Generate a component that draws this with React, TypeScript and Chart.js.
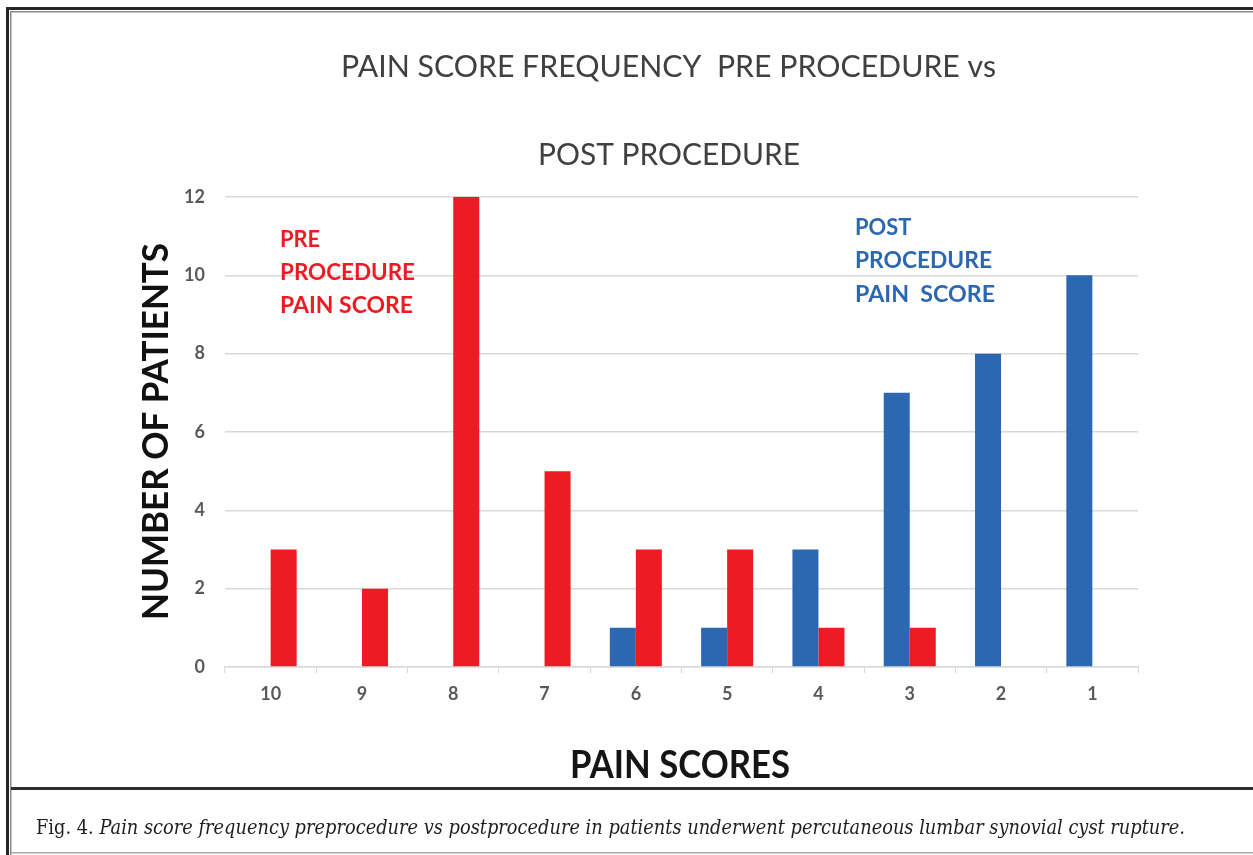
import React, { useEffect, useRef } from "react";
import { Chart, registerables } from "chart.js";

Chart.register(...registerables);

const categories = ["10", "9", "8", "7", "6", "5", "4", "3", "2", "1"];
const postValues = [0, 0, 0, 0, 1, 1, 3, 7, 8, 10];
const preValues = [3, 2, 12, 5, 3, 3, 1, 1, 0, 0];
const yMin = 0;
const yMax = 12;
const yStep = 2;

const titleLines = ["PAIN SCORE FREQUENCY  PRE PROCEDURE vs", "POST PROCEDURE"];
const preLabelLines = ["PRE", "PROCEDURE", "PAIN SCORE"];
const postLabelLines = ["POST", "PROCEDURE", "PAIN  SCORE"];
const yAxisTitle = "NUMBER OF PATIENTS";
const xAxisTitle = "PAIN SCORES";
const captionLead = "Fig. 4. ";
const captionText =
  "Pain score frequency preprocedure vs postprocedure in patients underwent percutaneous lumbar synovial cyst rupture.";

const W = 1253;
const H = 855;
const RED = "#ED1C24";
const BLUE = "#2C67B1";
const SANS = "Lato, 'Open Sans', sans-serif";

function drawFit(
  ctx: CanvasRenderingContext2D,
  text: string,
  x: number,
  baseline: number,
  font: string,
  color: string,
  targetW: number
) {
  ctx.save();
  ctx.font = font;
  ctx.fillStyle = color;
  ctx.textAlign = "left";
  ctx.textBaseline = "alphabetic";
  const w = ctx.measureText(text).width;
  const s = targetW / w;
  ctx.translate(x, baseline);
  ctx.scale(s, 1);
  ctx.fillText(text, 0, 0);
  ctx.restore();
}

const framePlugin = {
  id: "frameAndText",
  beforeDraw(chart: any) {
    const ctx: CanvasRenderingContext2D = chart.ctx;
    ctx.save();
    ctx.fillStyle = "#ffffff";
    ctx.fillRect(0, 0, W, H);
    ctx.fillStyle = "#262626";
    ctx.fillRect(6, 7, W - 6, 3);
    ctx.fillRect(6, 7, 3, H - 7);
    ctx.fillStyle = "#8a8a8a";
    ctx.fillRect(10, 11, W - 10, 1.5);
    ctx.fillRect(10, 11, 1.5, H - 11);
    ctx.fillStyle = "#2e2e2e";
    ctx.fillRect(11, 787, W - 11, 3);
    ctx.fillStyle = "#a8a8a8";
    ctx.fillRect(11, 852, W - 11, 1.5);
    ctx.restore();
  },
  afterDraw(chart: any) {
    const ctx: CanvasRenderingContext2D = chart.ctx;
    drawFit(ctx, titleLines[0], 341, 77, `400 30px ${SANS}`, "#404040", 655);
    drawFit(ctx, titleLines[1], 538, 165, `400 30px ${SANS}`, "#404040", 262);
    const preW = [0, 135, 133];
    const preB = [247, 280, 313];
    preLabelLines.forEach((t, i) => {
      ctx.save();
      ctx.font = `700 23.5px ${SANS}`;
      const w0 = ctx.measureText(t).width;
      ctx.restore();
      drawFit(ctx, t, 280, preB[i], `700 23.5px ${SANS}`, RED, preW[i] || w0 * 0.93);
    });
    const postW = [0, 137, 140];
    const postB = [235, 268, 302];
    postLabelLines.forEach((t, i) => {
      ctx.save();
      ctx.font = `700 23.5px ${SANS}`;
      const w0 = ctx.measureText(t).width;
      ctx.restore();
      drawFit(ctx, t, 855, postB[i], `700 23.5px ${SANS}`, BLUE, postW[i] || w0 * 0.93);
    });
    ctx.save();
    ctx.translate(168, 620);
    ctx.rotate(-Math.PI / 2);
    drawFit(ctx, yAxisTitle, 0, 0, `700 37px ${SANS}`, "#111111", 377);
    ctx.restore();
    drawFit(ctx, xAxisTitle, 570, 778, `700 37.5px ${SANS}`, "#151515", 220);
    ctx.save();
    const leadFont = "400 20.5px 'DejaVu Serif', 'Liberation Serif', serif";
    const itFont = "italic 400 20.5px 'DejaVu Serif', 'Liberation Serif', serif";
    ctx.font = leadFont;
    const lw = ctx.measureText(captionLead).width;
    ctx.font = itFont;
    const iw = ctx.measureText(captionText).width;
    ctx.restore();
    const total = 1185 - 36;
    const s = total / (lw + iw);
    drawFit(ctx, captionLead, 36, 834, leadFont, "#1e1e1e", lw * s);
    drawFit(ctx, captionText, 36 + lw * s, 834, itFont, "#1e1e1e", iw * s);
  },
};

export default function App() {
  const ref = useRef<HTMLCanvasElement | null>(null);
  useEffect(() => {
    if (!ref.current) return;
    const chart = new Chart(ref.current, {
      type: "bar",
      data: {
        labels: categories,
        datasets: [
          {
            label: "Post procedure pain score",
            data: postValues,
            backgroundColor: BLUE,
            borderWidth: 0,
            categoryPercentage: 0.57,
            barPercentage: 1.0,
          },
          {
            label: "Pre procedure pain score",
            data: preValues,
            backgroundColor: RED,
            borderWidth: 0,
            categoryPercentage: 0.57,
            barPercentage: 1.0,
          },
        ],
      },
      options: {
        responsive: false,
        animation: false,
        devicePixelRatio: 1,
        layout: { padding: { left: 0, right: 115, top: 197, bottom: 0 } },
        plugins: {
          legend: { display: false },
          title: { display: false },
          tooltip: { enabled: false },
        },
        scales: {
          x: {
            offset: true,
            grid: {
              offset: true,
              drawOnChartArea: false,
              drawTicks: true,
              tickLength: 6,
              color: "#d9d9d9",
            },
            border: { display: true, color: "#d9d9d9", width: 1.5 },
            ticks: {
              color: "#595959",
              font: { family: SANS, size: 18, weight: "bold" },
              padding: 10,
              maxRotation: 0,
            },
            afterFit(scale: any) {
              scale.height = H - 667;
            },
          },
          y: {
            min: yMin,
            max: yMax,
            grid: { color: "#d9d9d9", drawTicks: false, lineWidth: 1.5 },
            border: { display: false },
            ticks: {
              stepSize: yStep,
              color: "#595959",
              font: { family: SANS, size: 18, weight: "bold" },
              padding: 20,
            },
            afterFit(scale: any) {
              scale.width = 225;
            },
          },
        },
      },
      plugins: [framePlugin],
    });
    return () => chart.destroy();
  }, []);
  return (
    <div style={{ position: "absolute", left: 0, top: 0, width: W, height: H, overflow: "hidden", background: "#fff" }}>
      <canvas ref={ref} width={W} height={H} style={{ display: "block", width: W, height: H }} />
    </div>
  );
}
